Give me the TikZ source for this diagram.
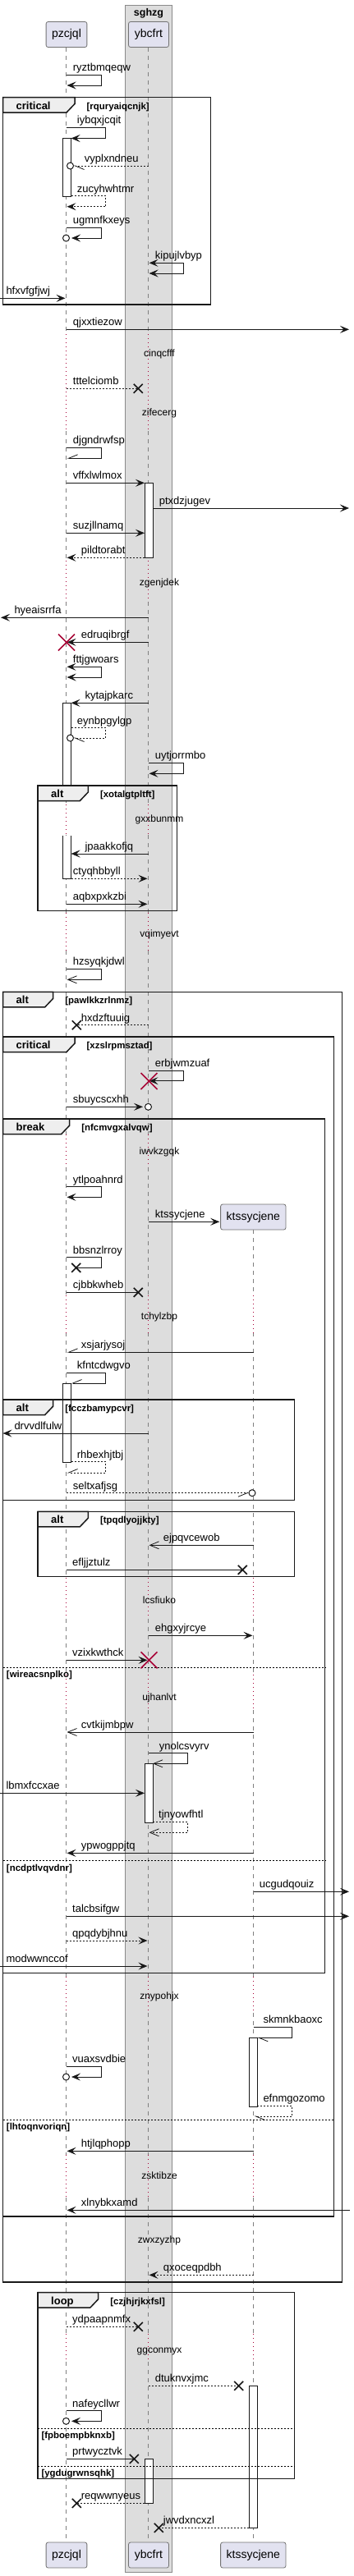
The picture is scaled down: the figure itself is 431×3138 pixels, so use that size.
\documentclass[tikz,border=0pt]{standalone}
\usepackage{fontspec}
\setmainfont{Liberation Sans}
\usetikzlibrary{arrows.meta}
\definecolor{ln}{HTML}{181818}
\definecolor{lifec}{HTML}{808080}
\definecolor{dlyc}{HTML}{A80036}
\definecolor{partf}{HTML}{E2E2F0}
\definecolor{boxf}{HTML}{DDDDDD}
\definecolor{boxd}{HTML}{8A8A8A}
\definecolor{tabf}{HTML}{EEEEEE}
\tikzset{
 msg/.style={draw=ln, line width=1pt},
 dsh/.style={dash pattern=on 2pt off 2pt},
 af/.style={-{Stealth[length=11pt,width=9pt,inset=4.5pt]}},
 ab/.style={{Stealth[length=11pt,width=9pt,inset=4.5pt]}-{Stealth[length=11pt,width=9pt,inset=4.5pt]}},
 ao/.style={-{Straight Barb[length=11pt,width=9pt,line width=0.8pt]}},
 ahl/.style={-{Straight Barb[left,length=11pt,width=9pt,line width=0.8pt]}},
 ahr/.style={-{Straight Barb[right,length=11pt,width=9pt,line width=0.8pt]}},
 lbl/.style={anchor=base west, inner sep=0pt, font=\fontsize{13}{15}\selectfont, text=black},
 dlbl/.style={inner sep=0pt, font=\fontsize{12}{14}\selectfont, text=black},
 life/.style={draw=lifec, line width=0.8pt, dash pattern=on 5pt off 5pt},
 dly/.style={draw=dlyc, line width=1pt, dash pattern=on 1pt off 4pt},
 act/.style={draw=ln, fill=white, line width=1pt},
 frmst/.style={draw=black!90, line width=1.5pt},
 tabst/.style={frmst, fill=tabf},
 flbl/.style={anchor=base west, inner sep=0pt, font=\bfseries\fontsize{13}{15}\selectfont},
 glbl/.style={anchor=base west, inner sep=0pt, font=\bfseries\fontsize{11.4}{13}\selectfont},
 sepst/.style={draw=black, line width=0.8pt, dash pattern=on 2pt off 2pt},
 part/.style={draw=black!55, fill=partf, rounded corners=2.5pt, minimum height=31pt, minimum width=49pt, inner xsep=7pt, line width=0.8pt, font=\fontsize{14}{16}\selectfont},
 xst/.style={draw=ln, line width=1.6pt},
 rxst/.style={draw=dlyc, line width=1.6pt}
}
% straight message: name, x1, x2, y, style, label x, text
\newcommand\hmsg[7]{\coordinate (#1s) at (#2,#4); \coordinate (#1e) at (#3,#4);
 \draw[msg,#5] (#1s) -- (#1e); \node[lbl] (#1l) at (#6,#4-4.5) {#7};}
% self message: name, xstart, xright, xend, y1, y2, style, label x, text
\newcommand\smsg[9]{\coordinate (#1s) at (#2,#5); \coordinate (#1a) at (#3,#5);
 \coordinate (#1b) at (#3,#6); \coordinate (#1e) at (#4,#6);
 \draw[msg,#7] (#1s) -- (#1a) -- (#1b) -- (#1e); \node[lbl] (#1l) at (#8,#5-4.5) {#9};}
\newcommand\xcr[2]{\draw[xst] (#1-5.5,#2-5.5) -- (#1+5.5,#2+5.5) (#1-5.5,#2+5.5) -- (#1+5.5,#2-5.5);}
\newcommand\rcr[2]{\draw[rxst] (#1-10,#2-10) -- (#1+10,#2+10) (#1-10,#2+10) -- (#1+10,#2-10);}
\newcommand\ocir[2]{\draw[msg,fill=white] (#1,#2) circle[radius=4];}
% frame: name, x0, x1, y0, y1, tab right, kind, guard
\newcommand\frm[8]{\draw[frmst] (#2,#4) rectangle (#3,#5);
 \draw[tabst] (#2,#4) -- (#6,#4) -- (#6,#4+8) -- (#6-10,#4+18.5) -- (#2,#4+18.5) -- cycle;
 \node[flbl] (#1k) at (#2+16,#4+14.5) {#7};
 \node[glbl] (#1g) at (#6+14.5,#4+14.5) {[#8]};}
\newcommand\sepr[5]{\draw[sepst] (#2,#4) -- (#3,#4); \node[glbl] (#1g) at (#2+4.3,#4+12.5) {[#5]};}
\begin{document}
\begin{tikzpicture}[x=1pt,y=-1pt]
\useasboundingbox (0,0) rectangle (431,3138);
\fill[white] (0,0) rectangle (431,3138);
% box
\fill[boxf] (152.5,6) rectangle (209.5,3133.3);
\draw[boxd, line width=1pt] (152.5,6) rectangle (209.5,3133.3);
\node[anchor=base, inner sep=0pt, font=\bfseries\fontsize{12.5}{14}\selectfont] (bt) at (181,19.3) {sghzg};
% lifelines
\foreach \a/\b in {57.5/407, 525/683, 733/980, 1017/1111.7, 1158.3/1381.7, 1421.7/1578, 1623.3/1922, 1971.7/2040, 2083/2408.3, 2451.7/2625, 2677/2843, 2877/3096.7}{
 \draw[life] (80.5,\a) -- (80.5,\b); \draw[life] (180.5,\a) -- (180.5,\b);}
\foreach \a/\b in {407/525, 683/733, 980/1017, 1111.7/1158.3, 1381.7/1421.7, 1578/1623.3, 1922/1971.7, 2040/2083, 2408.3/2451.7, 2625/2677, 2843/2877}{
 \draw[dly] (80.5,\a) -- (80.5,\b); \draw[dly] (180.5,\a) -- (180.5,\b);}
\foreach \a/\b in {1498.3/1578, 1623.3/1922, 1971.7/2040, 2083/2408.3, 2451.7/2625, 2677/2843, 2877/3096.7}{
 \draw[life] (308.5,\a) -- (308.5,\b);}
\foreach \a/\b in {1578/1623.3, 1922/1971.7, 2040/2083, 2408.3/2451.7, 2625/2677, 2843/2877}{
 \draw[dly] (308.5,\a) -- (308.5,\b);}
% delay labels
\foreach \t/\y in {cinqcfff/431.7, zifecerg/503, zgenjdek/710, gxxbunmm/998.3, vqimyevt/1138.3, iwvkzgqk/1403.3, tchylzbp/1604.3, lcsfiuko/1949, ujhanlvt/2068.3, znypohjx/2432.3, zsktibze/2650, zwxzyzhp/2729, ggconmyx/2864.7}{
 \node[dlbl] (d\t) at (194,\y) {\t};}
% activations
\draw[act] (76.5,168.5) rectangle (86.5,239);
\draw[act] (176,588.3) rectangle (186,679.3);
\draw[act] (76.5,856.3) rectangle (86.5,957);
\fill[white] (76.5,1018.3) rectangle (86.5,1070);
\draw[msg] (76.5,1018.3) -- (76.5,1070) -- (86.5,1070) -- (86.5,1018.3);
\draw[act] (76.5,1685) rectangle (86.5,1781.7);
\draw[act] (176,2148.3) rectangle (186,2220);
\draw[act] (303.3,2482.3) rectangle (313.3,2566);
\draw[act] (303.3,2906.3) rectangle (313.3,3079.3);
\draw[act] (176,2995.3) rectangle (186,3049);
% frames
\frm{fa}{3.5}{256.5}{118.5}{371}{91}{critical}{rquryaiqcnjk}
\frm{fb}{46}{215.7}{957}{1109.3}{107.3}{alt}{xotalgtpltft}
\frm{fc}{3.5}{416.3}{1208.3}{2780}{64.7}{alt}{pawlkkzrlnmz}
\frm{fd}{3.5}{406.7}{1263}{2700}{91}{critical}{xzslrpmsztad}
\frm{fe}{3.5}{395.7}{1363}{2403.3}{84.7}{break}{nfcmvgxalvqw}
\frm{ff}{3.5}{358.7}{1705}{1827.3}{64.7}{alt}{fcczbamypcvr}
\frm{fg}{46}{358.7}{1841.3}{1920.3}{107.3}{alt}{tpqdlyojjkty}
\frm{fh}{46}{358.7}{2792.7}{3019.7}{119.7}{loop}{czjhjrjkxfsl}
\sepr{sa}{3.5}{395.7}{2031}{wireacsnplko}
\sepr{sb}{3.5}{395.7}{2266.7}{ncdptlvqvdnr}
\sepr{sc}{3.5}{406.7}{2582.3}{lhtoqnvoriqn}
\sepr{sd}{46}{358.7}{2958.3}{fpboempbknxb}
\sepr{se}{46}{358.7}{3004.3}{ygdugrwnsqhk}
% messages
\smsg{m1}{80.5}{123.5}{81.5}{91}{104}{af}{88.7}{ryztbmqeqw}
\smsg{m2}{80.5}{128.5}{86.5}{155}{168.5}{af}{93.7}{iybqxjcqit}
\hmsg{m3}{180.5}{89.5}{202}{dsh,ahl}{102.7}{vyplxndneu}
\ocir{85.5}{202}
\smsg{m4}{86.5}{128.5}{81.5}{238.5}{251.7}{dsh,af}{93.7}{zucyhwhtmr}
\smsg{m5}{80.5}{123.5}{87}{277.3}{290}{af}{88.7}{ugmnfkxeys}
\ocir{80.5}{290}
\smsg{m6}{181.5}{223.3}{181.5}{320.3}{333}{ab}{188.7}{kipujlvbyp}
\hmsg{m7}{0}{79.5}{363.3}{af}{7.3}{hfxvfgfjwj}
\hmsg{m8}{80.5}{425}{401.3}{af}{88.7}{qjxxtiezow}
\hmsg{m9}{80.5}{168.3}{473.3}{dsh}{88.7}{tttelciomb}
\xcr{168.3}{473.3}
\smsg{m10}{80.5}{123.5}{81.5}{545}{558.3}{ahr}{88.7}{djgndrwfsp}
\hmsg{m11}{80.5}{176}{588.3}{af}{88.7}{vffxlwlmox}
\hmsg{m12}{186}{425}{619}{af}{193.7}{ptxdzjugev}
\hmsg{m13}{80.5}{176}{649.3}{af}{88.7}{suzjllnamq}
\hmsg{m14}{176}{81.5}{679.3}{dsh,af}{98.7}{pildtorabt}
\hmsg{m15}{180.5}{1}{752.3}{af}{17.3}{hyeaisrrfa}
\hmsg{m16}{180.5}{81.5}{782.3}{af}{98.7}{edruqibrgf}
\rcr{81}{782.5}
\smsg{m17}{81.5}{123.5}{81.5}{812.3}{825}{ab}{88.7}{fttjgwoars}
\hmsg{m18}{180.5}{86.5}{856.3}{af}{103.3}{kytajpkarc}
\smsg{m19}{86.5}{128.5}{89.5}{886.7}{899}{dsh,ahl}{93.7}{eynbpgylgp}
\ocir{85.5}{899}
\smsg{m20}{180.5}{223.3}{181.5}{929.3}{942.3}{af}{188.7}{uytjorrmbo}
\hmsg{m21}{180.5}{86.5}{1040}{af}{103.3}{jpaakkofjq}
\hmsg{m22}{86.5}{179.5}{1070.3}{dsh,af}{88.7}{ctyqhbbyll}
\hmsg{m23}{80.5}{179.5}{1101.3}{af}{88.7}{aqbxpxkzbi}
\smsg{m24}{80.5}{123.5}{81.5}{1180.3}{1193.3}{ao}{88.7}{hzsyqkjdwl}
\hmsg{m25}{180.5}{93.3}{1248.7}{dsh}{98.7}{hxdzftuuig}
\xcr{93.3}{1248.7}
\smsg{m26}{180.5}{223.3}{181.5}{1304.3}{1316.7}{af}{188.7}{erbjwmzuaf}
\rcr{181.5}{1317}
\hmsg{m27}{80.5}{174}{1348.3}{af}{88.7}{sbuycscxhh}
\ocir{180.5}{1348.3}
\smsg{m28}{80.5}{123.5}{81.5}{1445.7}{1458.3}{af}{88.7}{ytlpoahnrd}
\hmsg{m29}{180.5}{267.3}{1488.3}{af}{188.7}{ktssycjene}
\smsg{m30}{80.5}{123.5}{92.7}{1531.7}{1544.3}{}{88.7}{bbsnzlrroy}
\xcr{92.7}{1544.3}
\hmsg{m31}{80.5}{168.3}{1574.3}{}{88.7}{cjbbkwheb}
\xcr{168.3}{1574.3}
\hmsg{m32}{308.5}{81.5}{1647.3}{ahr}{98.7}{xsjarjysoj}
\smsg{m33}{80.5}{128.5}{86.5}{1672.3}{1685}{ahr}{93.7}{kfntcdwgvo}
\hmsg{m34}{180.5}{3.5}{1746}{af}{17.3}{drvvdlfulw}
\smsg{m35}{86.5}{128.5}{81.5}{1780.7}{1794}{dsh,ahr}{93.7}{rhbexhjtbj}
\hmsg{m36}{80.5}{303}{1818.7}{dsh,ahr}{88.7}{seltxafjsg}
\ocir{307}{1818.7}
\hmsg{m37}{308.5}{181.5}{1882.3}{ao}{198.7}{ejpqvcewob}
\hmsg{m38}{80.5}{295.3}{1912.3}{}{88}{efljjztulz}
\xcr{295.3}{1912.3}
\hmsg{m39}{180.5}{307.5}{1992.3}{af}{188.7}{ehgxyjrcye}
\hmsg{m40}{80.5}{179.5}{2022.3}{af}{88}{vzixkwthck}
\rcr{181.5}{2022.3}
\hmsg{m41}{308.5}{81.5}{2110}{ao}{98.7}{cvtkijmbpw}
\smsg{m42}{180.5}{228.3}{186}{2135.7}{2148.3}{ao}{193.7}{ynolcsvyrv}
\hmsg{m43}{0}{176}{2184.3}{af}{7.3}{lbmxfccxae}
\smsg{m44}{186}{228.3}{181.5}{2219.3}{2232.3}{dsh,ao}{193}{tjnyowfhtl}
\hmsg{m45}{308.5}{81.5}{2257.3}{af}{98.7}{ypwogppjtq}
\hmsg{m46}{308.5}{425}{2304.3}{af}{315.7}{ucgudqouiz}
\hmsg{m47}{80.5}{425}{2334.3}{af}{88}{talcbsifgw}
\hmsg{m48}{80.5}{179.5}{2364}{dsh,af}{88}{qpqdybjhnu}
\hmsg{m49}{0}{179.5}{2395}{af}{7.3}{modwwnccof}
\smsg{m50}{308.5}{355.7}{313.3}{2469.3}{2482.3}{ahl}{320.3}{skmnkbaoxc}
\smsg{m51}{80.5}{123.5}{87}{2517.3}{2530}{af}{88}{vuaxsvdbie}
\ocir{80.5}{2530}
\smsg{m52}{313.3}{355.7}{309.5}{2565.3}{2578}{dsh,ahl}{320.3}{efnmgozomo}
\hmsg{m53}{308.5}{81.5}{2620.3}{af}{98.7}{htjlqphopp}
\hmsg{m54}{426}{81.5}{2692.3}{af}{98.7}{xlnybkxamd}
\hmsg{m55}{308.5}{181.5}{2771.3}{dsh,af}{198.7}{qxoceqpdbh}
\hmsg{m56}{80.5}{168.3}{2834.3}{dsh}{88}{ydpaapnmfx}
\xcr{168.3}{2834.3}
\hmsg{m57}{180.5}{290.7}{2906.3}{dsh}{188.7}{dtuknvxjmc}
\xcr{290.7}{2906.3}
\smsg{m58}{80.5}{123.5}{87}{2936.7}{2949.3}{af}{88}{nafeycllwr}
\ocir{80.5}{2949.3}
\hmsg{m59}{80.5}{163.3}{2995.3}{}{88}{prtwycztvk}
\xcr{163.3}{2995.3}
\hmsg{m60}{176}{93.3}{3049.3}{dsh}{98.7}{reqwwnyeus}
\xcr{93.3}{3049.3}
\hmsg{m61}{303.3}{193.3}{3079.3}{dsh}{198.7}{jwvdxncxzl}
\xcr{193.3}{3079.3}
% participants
\node[part] (pz1) at (81,42) {pzcjql};
\node[part] (yb1) at (181,42) {ybcfrt};
\node[part] (kt1) at (308.3,1482.5) {ktssycjene};
\node[part] (pz2) at (81,3112.5) {pzcjql};
\node[part] (yb2) at (181,3112.5) {ybcfrt};
\node[part] (kt2) at (308.3,3112.5) {ktssycjene};
\end{tikzpicture}
\end{document}
